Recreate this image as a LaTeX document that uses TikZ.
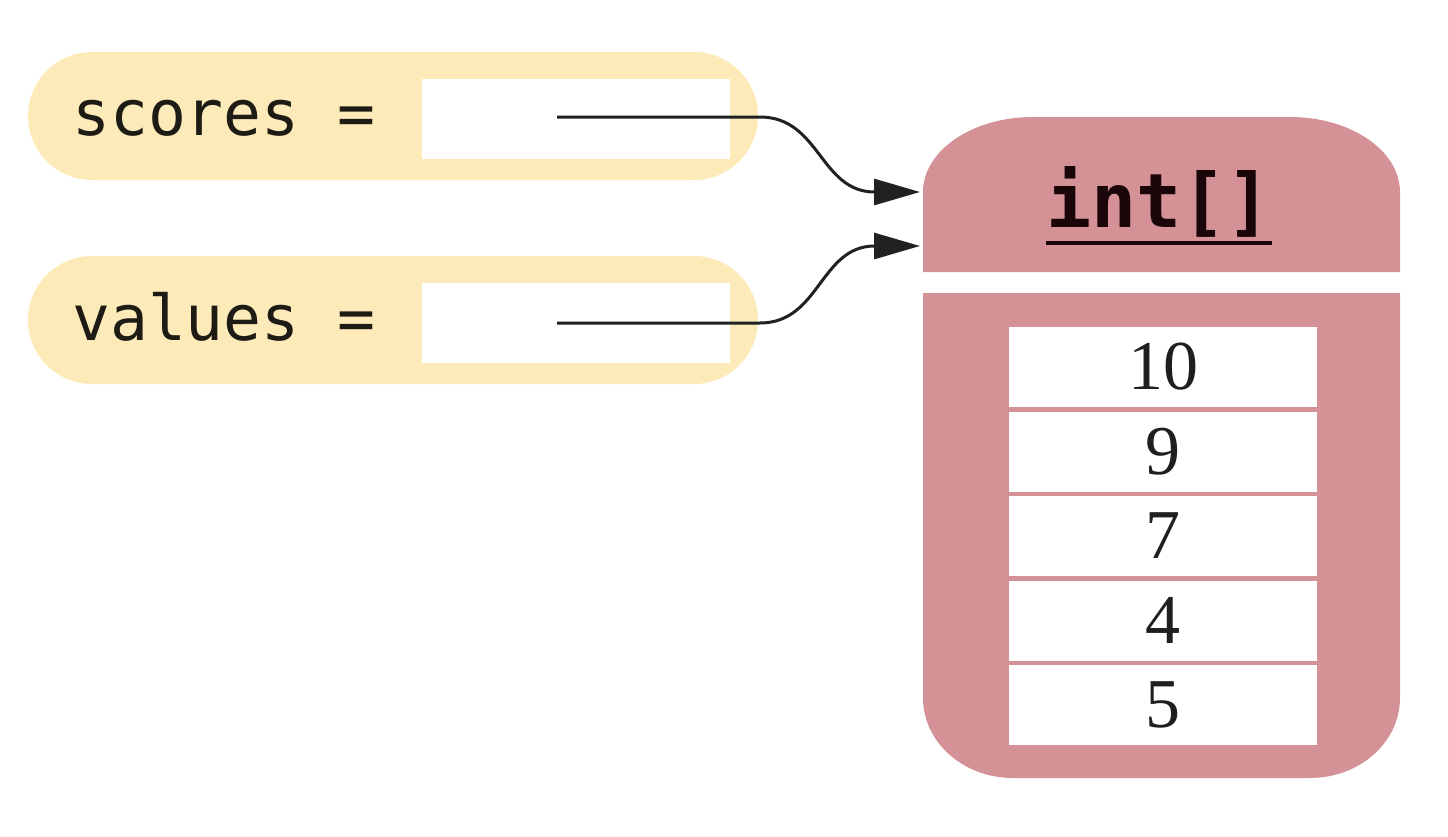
\documentclass[tikz,border=0pt]{standalone}
\usepackage{fontspec}
\setmainfont{Liberation Serif}
\newfontfamily\codefont{DejaVu Sans Mono}
\usetikzlibrary{arrows.meta}
\definecolor{varfill}{HTML}{FCEBB9}
\definecolor{objfill}{HTML}{D49296}
\definecolor{inkdark}{HTML}{1E1A14}
\definecolor{typeink}{HTML}{1A0508}
\begin{document}
\begin{tikzpicture}[x=1pt,y=-1pt,
  pill/.style={fill=varfill, rounded corners=64pt, minimum width=730pt, minimum height=128pt, inner sep=0},
  slot/.style={fill=white, minimum width=308pt, minimum height=80pt, inner sep=0},
  cell/.style={fill=white, minimum width=308pt, minimum height=80pt, inner sep=0, text=black!88,
    font=\fontsize{70}{80}\selectfont},
  varname/.style={anchor=base west, inner sep=0, text=inkdark, font=\codefont\fontsize{63}{70}\selectfont},
  ref/.style={draw=black!87, line width=3pt, -{Triangle[length=46pt,width=26pt]}},
]
\useasboundingbox (0,0) rectangle (1448,836);

% variables
\node[pill] (var1) at (393,116) {};
\node[pill] (var2) at (393,320) {};
\node[slot] (slot1) at (576,119) {};
\node[slot] (slot2) at (576,322.5) {};
\node[varname] (name1) at (72,135) {scores =};
\node[varname] (name2) at (72,340) {values =};

% array object
\fill[objfill] (923,272) -- (923,192)
  arc[start angle=180,end angle=90,x radius=110pt,y radius=75pt] -- (1290,117)
  arc[start angle=90,end angle=0,x radius=110pt,y radius=75pt] -- (1400,272) -- cycle;
\fill[objfill] (923,293) -- (1400,293) -- (1400,698)
  arc[start angle=0,end angle=-90,x radius=90pt,y radius=80pt] -- (1013,778)
  arc[start angle=-90,end angle=-180,x radius=90pt,y radius=80pt] -- cycle;
\node[anchor=base, inner sep=0, text=typeink, font=\codefont\bfseries\fontsize{75}{80}\selectfont]
  (type) at (1159,227) {int[]};
\draw[line width=4pt, typeink] ([yshift=-16pt]type.base west) -- ([yshift=-16pt]type.base east);

\node[cell] (c1) at (1163,367) {\raisebox{-4pt}{10}};
\node[cell] (c2) at (1163,451.5) {\raisebox{-4pt}{9}};
\node[cell] (c3) at (1163,536) {\raisebox{-4pt}{7}};
\node[cell] (c4) at (1163,620.5) {\raisebox{-4pt}{4}};
\node[cell] (c5) at (1163,705) {\raisebox{-4pt}{5}};

% references
\coordinate (src1) at (557,117);
\coordinate (src2) at (557,323);
\coordinate (dst1) at (920,192);
\coordinate (dst2) at (920,246);
\draw[ref] (src1) -- (760,117) .. controls (820,117) and (820,192) .. (dst1);
\draw[ref] (src2) -- (760,323) .. controls (820,323) and (820,246) .. (dst2);
\end{tikzpicture}
\end{document}
